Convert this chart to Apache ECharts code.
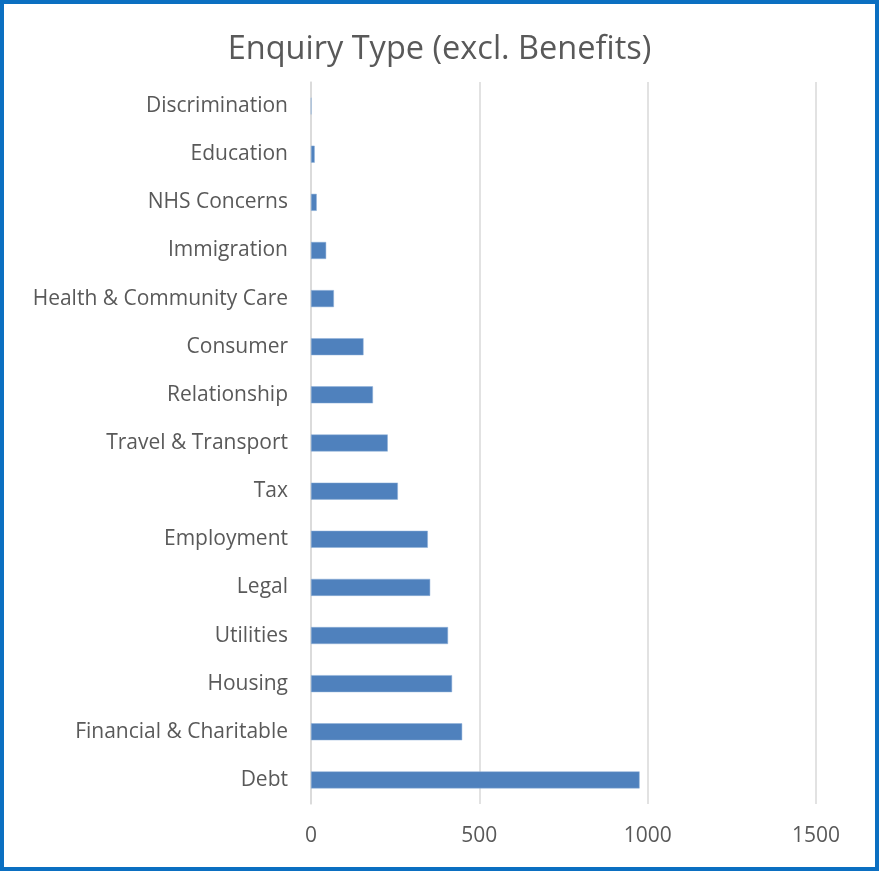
<!DOCTYPE html>
<html>
<head>
<meta charset="utf-8">
<script src="https://cdn.jsdelivr.net/npm/echarts@6/dist/echarts.min.js"></script>
<style>
html,body{margin:0;padding:0;background:#fff;}
#wrap{width:879px;height:871px;box-sizing:border-box;border:4px solid #0b6fc1;position:relative;}
#chart{position:absolute;left:-4px;top:-4px;width:879px;height:871px;}
</style>
</head>
<body>
<div id="wrap"><div id="chart"></div></div>
<script>
const categories = ["Debt","Financial & Charitable","Housing","Utilities","Legal","Employment","Tax","Travel & Transport","Relationship","Consumer","Health & Community Care","Immigration","NHS Concerns","Education","Discrimination"];
const values = [976, 449, 419, 407, 354, 347, 258, 228, 184, 156, 68, 45, 17, 11, 1];
const xTicks = [0, 500, 1000, 1500];

const chart = echarts.init(document.getElementById('chart'));
chart.setOption({
  animation: false,
  title: {
    text: 'Enquiry Type (excl. Benefits)',
    left: 'center',
    top: 28,
    textStyle: {fontFamily: 'Open Sans', fontWeight: 'normal', fontSize: 32.5, color: '#595959'}
  },
  grid: {left: 311, right: 63, top: 82, bottom: 67, containLabel: false},
  xAxis: {
    type: 'value',
    min: xTicks[0],
    max: xTicks[xTicks.length - 1],
    interval: 500,
    axisLine: {show: false},
    axisTick: {show: false},
    splitLine: {lineStyle: {color: '#d9d9d9', width: 1.5}},
    axisLabel: {fontFamily: 'Open Sans', fontSize: 21, color: '#595959', margin: 22,
      formatter: v => String(v)}
  },
  yAxis: {
    type: 'category',
    data: categories,
    axisLine: {show: true, lineStyle: {color: '#d9d9d9', width: 1.5}},
    axisTick: {show: false},
    axisLabel: {fontFamily: 'Open Sans', fontSize: 21, color: '#595959', margin: 23}
  },
  series: [{
    type: 'bar',
    data: values,
    barWidth: 17,
    itemStyle: {color: '#4f81bd', borderColor: '#8fb0d8', borderWidth: 0.5}
  }]
});
</script>
</body>
</html>
